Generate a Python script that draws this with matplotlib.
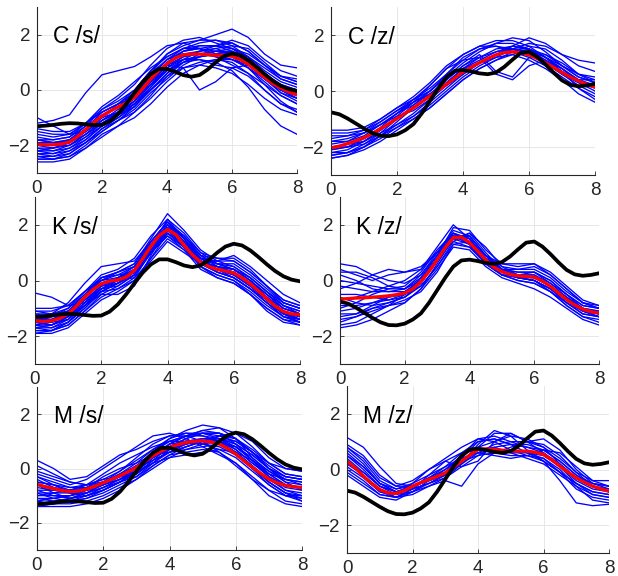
import numpy as np
import matplotlib
matplotlib.use("Agg")
import matplotlib.pyplot as plt

plt.rcParams['font.family'] = ['Liberation Sans', 'DejaVu Sans']

# sample positions (thick curves every 0.25, thin curves every 0.5)
x_fine = np.linspace(0, 8, 33)
x_coarse = np.linspace(0, 8, 17)

# black reference curves
black_s = [-1.31, -1.29, -1.26, -1.22, -1.20, -1.21, -1.24, -1.27, -1.26, -1.12, -0.86, -0.50, -0.10,
           0.28, 0.58, 0.76, 0.76, 0.66, 0.54, 0.48, 0.54, 0.74, 1.00, 1.22, 1.32, 1.26, 1.08, 0.84,
           0.58, 0.34, 0.15, 0.03, -0.03]
black_z = [-0.76, -0.83, -0.98, -1.16, -1.34, -1.50, -1.60, -1.61, -1.55, -1.40, -1.18, -0.80, -0.35,
           0.10, 0.50, 0.72, 0.75, 0.70, 0.63, 0.60, 0.66, 0.86, 1.12, 1.36, 1.40, 1.22, 0.95, 0.65,
           0.38, 0.22, 0.17, 0.20, 0.26]

# red mean curves
red_cs = [-1.96, -1.98, -1.98, -1.95, -1.88, -1.68, -1.43, -1.17, -0.94, -0.76, -0.61, -0.47, -0.27,
          0.05, 0.40, 0.70, 0.95, 1.15, 1.27, 1.30, 1.30, 1.28, 1.26, 1.25, 1.22, 1.10, 0.93, 0.70,
          0.46, 0.24, 0.07, -0.07, -0.17]
red_cz = [-2.03, -1.97, -1.88, -1.78, -1.67, -1.52, -1.35, -1.17, -0.98, -0.79, -0.60, -0.39, -0.18,
          0.03, 0.24, 0.46, 0.68, 0.85, 1.01, 1.16, 1.29, 1.37, 1.40, 1.37, 1.29, 1.16, 1.01, 0.84,
          0.66, 0.50, 0.36, 0.24, 0.14]
red_ks = [-1.45, -1.47, -1.45, -1.36, -1.20, -0.92, -0.60, -0.33, -0.12, -0.02, 0.02, 0.12, 0.36,
          0.78, 1.23, 1.62, 1.83, 1.65, 1.27, 0.92, 0.66, 0.50, 0.40, 0.34, 0.27, 0.10, -0.12, -0.38,
          -0.66, -0.92, -1.11, -1.20, -1.23]
red_kz = [-0.67, -0.65, -0.63, -0.62, -0.60, -0.58, -0.55, -0.51, -0.45, -0.30, -0.04, 0.33, 0.74,
          1.18, 1.54, 1.56, 1.36, 1.06, 0.74, 0.48, 0.32, 0.22, 0.17, 0.15, 0.12, -0.02, -0.21, -0.45,
          -0.69, -0.88, -1.03, -1.12, -1.17]
red_ms = [-0.58, -0.67, -0.74, -0.81, -0.85, -0.83, -0.76, -0.65, -0.52, -0.40, -0.27, -0.12, 0.04,
          0.26, 0.47, 0.64, 0.78, 0.88, 0.96, 1.00, 1.02, 0.98, 0.90, 0.74, 0.53, 0.28, 0.04, -0.18,
          -0.39, -0.53, -0.62, -0.67, -0.70]
red_mz = [0.30, 0.06, -0.24, -0.50, -0.72, -0.84, -0.86, -0.76, -0.60, -0.47, -0.36, -0.25, -0.12,
          0.08, 0.30, 0.52, 0.72, 0.74, 0.72, 0.69, 0.66, 0.66, 0.66, 0.62, 0.54, 0.35, 0.12, -0.10,
          -0.30, -0.46, -0.60, -0.70, -0.78]

# blue single-token curves
blue_cs = [
    [-1.2, -1.1, -0.9, -0.1, 0.55, 0.7, 0.85, 1.2, 1.6, 1.7, 1.5, 1.3, 1.1, 0.8, 0.4, 0.1, 0.0],
    [-1.0, -1.3, -1.6, -1.5, -1.0, -0.5, 0.0, 0.7, 1.2, 1.5, 1.5, 1.4, 1.3, 1.0, 0.5, 0.1, -0.1],
    [-2.6, -2.6, -2.5, -2.1, -1.6, -1.3, -1.0, -0.5, 0.1, 0.6, 0.9, 1.1, 1.0, 0.6, 0.0, -0.5, -0.7],
    [-2.2, -2.2, -2.0, -1.6, -1.1, -0.7, -0.3, 0.3, 0.9, 0.8, 0.0, 0.3, 0.8, 0.9, 0.5, 0.0, -0.3],
    [-2.0, -2.1, -2.0, -1.6, -1.2, -0.9, -0.6, 0.0, 0.6, 1.0, 1.1, 1.0, 0.7, 0.1, -0.7, -1.3, -1.6],
    [-1.8, -1.8, -1.7, -1.2, -0.7, -0.4, 0.0, 0.7, 1.3, 1.6, 1.8, 2.0, 2.2, 1.9, 1.3, 0.9, 0.8],
    [-2.3, -2.3, -2.1, -1.7, -1.2, -0.9, -0.5, 0.1, 0.7, 1.1, 1.2, 1.3, 1.4, 1.2, 0.7, 0.3, 0.1],
    [-1.7, -1.8, -1.7, -1.3, -0.7, -0.3, 0.2, 0.9, 1.5, 1.8, 1.9, 1.7, 1.5, 1.1, 0.6, 0.2, 0.0],
    [-2.1, -2.1, -1.9, -1.4, -0.8, -0.5, -0.3, 0.2, 0.7, 1.0, 1.2, 1.4, 1.5, 1.2, 0.8, 0.4, 0.2],
    [-1.9, -2.0, -2.0, -1.7, -1.3, -1.0, -0.6, 0.0, 0.5, 0.8, 0.9, 0.8, 0.6, 0.2, -0.3, -0.7, -0.9],
    [-2.4, -2.4, -2.2, -1.8, -1.3, -0.8, -0.2, 0.6, 1.1, 1.3, 1.4, 1.5, 1.6, 1.5, 1.0, 0.5, 0.3],
    [-1.5, -1.6, -1.6, -1.2, -0.6, -0.2, 0.3, 0.8, 1.2, 1.5, 1.7, 1.8, 1.6, 1.2, 0.5, -0.1, -0.4],
    [-2.0, -2.0, -1.8, -1.4, -1.0, -0.8, -0.4, 0.3, 1.0, 1.4, 1.5, 1.2, 0.9, 0.6, 0.2, -0.2, -0.5],
    [-2.2, -2.3, -2.2, -1.9, -1.5, -1.1, -0.6, 0.1, 0.8, 1.2, 1.4, 1.5, 1.3, 0.9, 0.4, 0.0, -0.2],
    [-1.8, -1.9, -1.8, -1.3, -0.9, -0.6, -0.2, 0.5, 1.1, 1.5, 1.6, 1.6, 1.5, 1.3, 0.9, 0.5, 0.4],
    [-2.4, -2.5, -2.4, -2.0, -1.5, -1.1, -0.7, -0.1, 0.4, 0.9, 1.2, 1.3, 1.2, 0.8, 0.2, -0.4, -0.8],
    [-2.5, -2.5, -2.3, -1.9, -1.4, -1.0, -0.5, 0.2, 0.9, 1.4, 1.6, 1.6, 1.4, 1.0, 0.4, -0.1, -0.3],
    [-1.9, -1.9, -1.8, -1.5, -1.1, -0.8, -0.3, 0.4, 1.0, 1.3, 1.3, 1.2, 1.1, 0.9, 0.5, 0.2, 0.0],
    [-2.1, -2.2, -2.1, -1.8, -1.3, -0.9, -0.4, 0.3, 0.9, 1.2, 1.3, 1.4, 1.4, 1.1, 0.6, 0.1, -0.2],
    [-1.6, -1.7, -1.6, -1.2, -0.8, -0.5, -0.1, 0.5, 1.1, 1.4, 1.5, 1.6, 1.7, 1.4, 0.9, 0.5, 0.3],
    [-2.3, -2.4, -2.3, -1.9, -1.4, -1.1, -0.8, -0.3, 0.3, 0.8, 1.0, 1.1, 1.1, 0.8, 0.3, -0.2, -0.5],
    [-1.8, -1.9, -1.9, -1.6, -1.2, -0.8, -0.4, 0.2, 0.8, 1.1, 1.1, 0.9, 0.8, 0.5, 0.0, -0.5, -0.8],
    [-2.0, -2.0, -1.9, -1.5, -1.0, -0.6, -0.1, 0.6, 1.3, 1.7, 1.8, 1.8, 1.7, 1.4, 0.9, 0.4, 0.2],
    [-2.2, -2.1, -1.9, -1.5, -1.1, -0.8, -0.5, 0.0, 0.6, 1.1, 1.4, 1.6, 1.8, 1.6, 1.1, 0.7, 0.5],
    [-1.4, -1.5, -1.5, -1.2, -0.8, -0.5, -0.1, 0.4, 0.9, 1.1, 1.2, 1.3, 1.3, 1.0, 0.5, 0.0, -0.2],
    [-2.5, -2.5, -2.4, -2.1, -1.7, -1.3, -0.8, -0.2, 0.5, 1.0, 1.3, 1.4, 1.3, 1.0, 0.5, 0.0, -0.3],
]
blue_cz = [
    [-1.4, -1.4, -1.3, -1.0, -0.6, -0.3, 0.0, 0.6, 1.2, 1.5, 1.6, 1.5, 1.3, 1.0, 0.6, 0.3, 0.2],
    [-2.4, -2.3, -2.1, -1.8, -1.4, -1.0, -0.6, -0.1, 0.4, 0.8, 1.1, 1.4, 1.6, 1.5, 1.1, 0.6, 0.3],
    [-2.2, -2.1, -1.8, -1.4, -1.0, -0.6, -0.2, 0.4, 0.9, 1.3, 0.7, 0.5, 1.2, 1.3, 1.0, 0.6, 0.4],
    [-1.7, -1.6, -1.4, -1.0, -0.6, -0.2, 0.3, 0.9, 1.3, 1.6, 1.8, 1.8, 1.6, 1.2, 0.7, 0.1, -0.3],
    [-2.0, -1.9, -1.8, -1.5, -1.2, -0.9, -0.5, 0.0, 0.5, 0.9, 1.2, 1.5, 1.7, 1.6, 1.3, 1.1, 1.0],
    [-2.3, -2.2, -1.9, -1.5, -1.0, -0.5, 0.0, 0.5, 0.8, 1.0, 1.2, 1.3, 1.1, 0.8, 0.4, -0.1, -0.4],
    [-1.6, -1.6, -1.5, -1.2, -0.8, -0.4, -0.1, 0.2, 0.6, 1.0, 1.3, 1.6, 1.9, 1.7, 1.3, 0.9, 0.7],
    [-2.1, -2.0, -1.8, -1.4, -0.9, -0.4, 0.2, 0.8, 1.1, 1.2, 0.6, 0.4, 0.9, 1.1, 0.8, 0.3, 0.0],
    [-1.9, -1.8, -1.5, -1.1, -0.7, -0.4, 0.0, 0.5, 1.0, 1.4, 1.7, 1.9, 1.8, 1.4, 0.9, 0.5, 0.3],
    [-2.3, -2.2, -2.0, -1.6, -1.2, -0.8, -0.3, 0.2, 0.6, 1.0, 1.3, 1.4, 1.3, 1.0, 0.6, 0.3, 0.1],
    [-1.8, -1.8, -1.6, -1.2, -0.9, -0.7, -0.3, 0.3, 0.8, 1.1, 1.4, 1.6, 1.5, 1.1, 0.6, 0.2, -0.1],
    [-2.1, -2.0, -1.7, -1.3, -0.8, -0.3, 0.1, 0.6, 1.1, 1.5, 1.7, 1.7, 1.5, 1.2, 0.9, 0.6, 0.5],
    [-2.2, -2.2, -2.0, -1.7, -1.3, -0.9, -0.4, 0.1, 0.6, 1.0, 1.3, 1.5, 1.5, 1.2, 0.8, 0.4, 0.2],
    [-1.5, -1.5, -1.4, -1.1, -0.7, -0.3, 0.2, 0.8, 1.3, 1.6, 1.6, 1.4, 1.2, 0.9, 0.5, 0.1, -0.2],
    [-2.0, -2.0, -1.9, -1.6, -1.3, -1.0, -0.6, -0.1, 0.4, 0.8, 1.1, 1.3, 1.5, 1.3, 0.9, 0.5, 0.3],
    [-2.4, -2.3, -2.0, -1.6, -1.1, -0.6, -0.2, 0.3, 0.8, 1.2, 1.5, 1.6, 1.5, 1.2, 0.8, 0.4, 0.2],
    [-1.8, -1.7, -1.5, -1.2, -0.8, -0.5, -0.1, 0.4, 0.9, 1.2, 1.4, 1.5, 1.4, 1.1, 0.7, 0.4, 0.4],
]
blue_ks = [
    [-0.45, -0.6, -0.9, -0.8, -0.4, -0.1, 0.3, 1.2, 2.0, 1.6, 0.9, 0.5, 0.4, 0.1, -0.4, -0.8, -1.0],
    [-1.9, -1.9, -1.7, -1.2, -0.7, -0.4, 0.0, 0.8, 1.5, 1.1, 0.4, 0.1, -0.1, -0.5, -1.0, -1.4, -1.6],
    [-1.3, -1.2, -0.8, -0.1, 0.5, 0.6, 0.7, 1.4, 2.1, 1.6, 1.0, 0.8, 0.7, 0.3, -0.2, -0.7, -0.9],
    [-1.6, -1.7, -1.5, -1.0, -0.4, -0.3, 0.0, 0.8, 1.7, 1.3, 0.6, 0.3, 0.1, -0.3, -0.8, -1.3, -1.5],
    [-1.2, -1.3, -1.1, -0.5, 0.1, 0.3, 0.6, 1.5, 2.4, 1.8, 1.1, 0.7, 0.5, 0.1, -0.4, -0.9, -1.2],
    [-1.7, -1.7, -1.4, -0.9, -0.5, -0.5, -0.2, 0.9, 1.9, 1.2, 0.5, 0.2, 0.0, -0.4, -0.9, -1.3, -1.4],
    [-1.4, -1.4, -1.2, -0.6, 0.0, 0.2, 0.5, 1.3, 1.8, 1.4, 0.9, 0.8, 0.8, 0.4, -0.2, -0.8, -1.0],
    [-1.5, -1.6, -1.3, -0.7, -0.3, -0.2, 0.2, 1.0, 1.6, 1.1, 0.6, 0.5, 0.4, 0.0, -0.5, -1.0, -1.2],
    [-1.1, -1.1, -0.9, -0.4, 0.2, 0.4, 0.8, 1.6, 2.2, 1.5, 0.8, 0.4, 0.2, -0.2, -0.7, -1.1, -1.3],
    [-1.8, -1.8, -1.6, -1.1, -0.5, -0.2, 0.2, 1.1, 1.9, 1.3, 0.5, 0.2, 0.0, -0.5, -1.1, -1.5, -1.6],
    [-1.3, -1.3, -1.0, -0.4, 0.0, 0.1, 0.4, 1.3, 2.0, 1.4, 0.8, 0.6, 0.6, 0.2, -0.3, -0.8, -1.0],
    [-1.6, -1.6, -1.3, -0.7, -0.2, -0.1, 0.3, 1.1, 1.7, 1.2, 0.7, 0.5, 0.3, -0.1, -0.6, -1.1, -1.4],
    [-1.4, -1.5, -1.4, -0.8, -0.2, 0.1, 0.5, 1.4, 2.1, 1.5, 0.7, 0.3, 0.1, -0.3, -0.8, -1.2, -1.3],
    [-1.5, -1.4, -1.1, -0.6, -0.1, 0.0, 0.1, 0.7, 1.4, 1.0, 0.6, 0.7, 0.9, 0.5, 0.0, -0.5, -0.8],
    [-1.0, -1.0, -0.9, -0.4, 0.1, 0.2, 0.3, 1.0, 1.8, 1.4, 0.8, 0.4, 0.1, -0.3, -0.7, -1.2, -1.4],
    [-1.7, -1.6, -1.3, -0.8, -0.3, 0.0, 0.4, 1.2, 2.0, 1.5, 0.9, 0.6, 0.4, 0.0, -0.6, -1.1, -1.3],
    [-1.3, -1.4, -1.3, -0.9, -0.4, -0.1, 0.3, 1.1, 1.9, 1.4, 0.7, 0.4, 0.2, -0.2, -0.7, -1.2, -1.4],
    [-1.6, -1.5, -1.2, -0.6, 0.1, 0.3, 0.5, 1.2, 1.8, 1.3, 0.7, 0.5, 0.4, 0.0, -0.5, -1.0, -1.2],
    [-1.2, -1.2, -1.1, -0.7, -0.2, 0.0, 0.3, 1.2, 2.2, 1.7, 1.0, 0.6, 0.4, 0.0, -0.5, -0.9, -1.1],
    [-1.8, -1.8, -1.5, -1.0, -0.4, -0.1, 0.2, 1.0, 1.7, 1.2, 0.6, 0.4, 0.3, -0.1, -0.6, -1.2, -1.5],
    [-1.5, -1.5, -1.2, -0.6, -0.1, 0.1, 0.4, 1.3, 2.0, 1.4, 0.7, 0.4, 0.2, -0.2, -0.7, -1.2, -1.4],
    [-1.4, -1.3, -1.1, -0.6, -0.1, 0.1, 0.3, 1.0, 1.6, 1.2, 0.8, 0.7, 0.7, 0.3, -0.2, -0.7, -0.9],
    [-1.7, -1.8, -1.6, -1.1, -0.6, -0.3, 0.1, 1.0, 1.8, 1.3, 0.6, 0.3, 0.1, -0.3, -0.8, -1.3, -1.5],
    [-1.1, -1.2, -1.0, -0.5, 0.0, 0.3, 0.6, 1.4, 2.1, 1.6, 0.9, 0.5, 0.3, -0.1, -0.6, -1.0, -1.2],
    [-1.9, -1.8, -1.5, -0.9, -0.3, -0.1, 0.2, 1.0, 1.8, 1.3, 0.5, 0.1, -0.1, -0.5, -1.0, -1.4, -1.5],
    [-1.5, -1.6, -1.4, -0.9, -0.3, 0.0, 0.3, 1.2, 1.9, 1.4, 0.8, 0.6, 0.5, 0.1, -0.4, -0.9, -1.1],
]
blue_kz = [
    [0.6, 0.5, 0.2, 0.0, -0.1, 0.2, 0.9, 1.6, 1.4, 0.8, 0.4, 0.3, 0.3, 0.0, -0.5, -0.9, -1.0],
    [-1.7, -1.6, -1.4, -1.1, -0.8, -0.3, 0.4, 1.2, 1.1, 0.5, 0.1, -0.1, -0.3, -0.6, -1.0, -1.4, -1.6],
    [-0.3, -0.1, 0.2, 0.4, 0.3, 0.4, 1.0, 1.8, 1.6, 0.9, 0.5, 0.4, 0.4, 0.1, -0.4, -0.8, -0.9],
    [-1.2, -1.2, -1.0, -0.8, -0.6, -0.1, 0.8, 1.7, 1.5, 0.8, 0.3, 0.2, 0.2, -0.2, -0.7, -1.1, -1.3],
    [0.2, 0.0, -0.3, -0.4, -0.4, 0.0, 0.7, 1.5, 1.3, 0.7, 0.4, 0.4, 0.5, 0.2, -0.3, -0.8, -1.0],
    [-0.9, -0.9, -0.8, -0.7, -0.6, -0.2, 0.5, 1.4, 1.7, 1.0, 0.4, 0.1, 0.0, -0.3, -0.8, -1.2, -1.3],
    [-0.5, -0.5, -0.6, -0.7, -0.5, 0.1, 0.9, 1.9, 1.8, 1.1, 0.6, 0.5, 0.6, 0.3, -0.2, -0.7, -0.9],
    [-1.4, -1.3, -1.1, -0.9, -0.7, -0.4, 0.3, 1.3, 1.2, 0.6, 0.2, 0.0, -0.1, -0.4, -0.9, -1.3, -1.4],
    [0.0, -0.1, -0.2, -0.3, -0.2, 0.3, 1.1, 1.7, 1.3, 0.6, 0.2, 0.1, 0.0, -0.3, -0.8, -1.1, -1.2],
    [-1.0, -0.8, -0.5, -0.3, -0.3, 0.0, 0.7, 1.6, 1.6, 0.9, 0.3, 0.1, 0.1, -0.2, -0.6, -1.0, -1.1],
    [-0.7, -0.6, -0.4, -0.2, 0.0, 0.4, 1.2, 2.0, 1.5, 0.7, 0.2, 0.0, -0.1, -0.4, -0.8, -1.2, -1.3],
    [-1.3, -1.2, -0.9, -0.6, -0.5, -0.2, 0.5, 1.3, 1.4, 0.9, 0.6, 0.6, 0.6, 0.2, -0.3, -0.8, -1.0],
    [0.3, 0.3, 0.1, -0.2, -0.3, 0.1, 0.8, 1.4, 1.2, 0.7, 0.3, 0.1, 0.0, -0.3, -0.7, -1.1, -1.2],
    [-1.5, -1.3, -1.0, -0.9, -0.8, -0.3, 0.6, 1.5, 1.7, 1.2, 0.5, 0.2, 0.3, 0.0, -0.5, -1.0, -1.2],
    [-0.2, -0.3, -0.4, -0.4, -0.3, 0.2, 1.0, 1.7, 1.4, 0.7, 0.3, 0.2, 0.1, -0.2, -0.6, -1.0, -1.1],
    [-1.1, -1.0, -0.8, -0.6, -0.4, 0.0, 0.8, 1.6, 1.5, 0.8, 0.4, 0.3, 0.3, -0.1, -0.6, -1.0, -1.2],
    [-0.6, -0.8, -0.9, -0.8, -0.6, -0.1, 0.7, 1.5, 1.6, 0.9, 0.4, 0.2, 0.1, -0.2, -0.7, -1.1, -1.3],
    [-1.6, -1.5, -1.2, -0.9, -0.5, 0.0, 0.8, 1.7, 1.5, 0.8, 0.3, 0.1, 0.0, -0.4, -0.9, -1.3, -1.5],
    [0.4, 0.2, 0.0, 0.2, 0.3, 0.5, 1.0, 1.6, 1.3, 0.6, 0.2, 0.2, 0.2, -0.1, -0.5, -0.9, -1.0],
]
blue_ms = [
    [0.3, 0.0, -0.4, -0.3, 0.1, 0.5, 0.7, 1.0, 1.2, 1.2, 1.0, 0.6, 0.1, -0.4, -0.8, -1.0, -1.0],
    [-1.4, -1.4, -1.4, -1.3, -1.1, -0.8, -0.4, 0.1, 0.5, 0.8, 1.0, 1.0, 0.7, 0.2, -0.3, -0.6, -0.7],
    [-0.8, -1.0, -1.1, -1.0, -0.7, -0.4, -0.1, 0.4, 0.8, 1.1, 1.3, 1.3, 1.1, 0.6, 0.1, -0.3, -0.4],
    [-0.2, -0.4, -0.6, -0.4, 0.0, 0.4, 0.8, 1.2, 1.3, 1.1, 0.8, 0.5, 0.2, -0.3, -0.8, -1.2, -1.3],
    [-1.1, -1.2, -1.2, -1.0, -0.8, -0.5, -0.2, 0.3, 0.6, 0.8, 1.0, 1.2, 1.3, 1.0, 0.4, 0.0, -0.1],
    [-0.5, -0.6, -0.8, -0.8, -0.6, -0.3, 0.1, 0.5, 0.9, 1.2, 1.4, 1.3, 0.9, 0.3, -0.3, -0.7, -0.8],
    [-1.0, -1.0, -1.0, -0.9, -0.7, -0.5, -0.3, 0.1, 0.5, 0.6, 0.7, 0.6, 0.2, -0.4, -1.0, -1.3, -1.4],
    [-0.3, -0.5, -0.7, -0.6, -0.4, -0.1, 0.3, 0.7, 1.0, 1.2, 1.3, 1.1, 0.7, 0.2, -0.2, -0.4, -0.5],
    [-1.3, -1.3, -1.2, -1.1, -0.9, -0.6, -0.3, 0.2, 0.7, 1.0, 1.1, 1.0, 0.6, 0.1, -0.5, -0.9, -1.0],
    [-0.7, -0.8, -0.9, -0.7, -0.3, 0.0, 0.2, 0.5, 0.6, 0.7, 0.8, 0.9, 0.8, 0.4, -0.1, -0.4, -0.5],
    [-0.4, -0.7, -0.9, -0.9, -0.7, -0.4, 0.0, 0.6, 1.1, 1.4, 1.6, 1.5, 1.1, 0.4, -0.2, -0.6, -0.7],
    [-1.2, -1.1, -1.0, -0.8, -0.5, -0.3, -0.1, 0.2, 0.4, 0.5, 0.6, 0.7, 0.6, 0.3, -0.1, -0.5, -0.6],
    [-0.9, -1.1, -1.2, -1.1, -0.8, -0.5, -0.1, 0.5, 0.9, 1.0, 0.9, 0.8, 0.5, 0.0, -0.5, -0.9, -1.1],
    [-0.1, -0.3, -0.5, -0.6, -0.5, -0.2, 0.2, 0.7, 1.1, 1.3, 1.3, 1.2, 1.0, 0.6, 0.2, 0.0, -0.1],
    [-0.6, -0.9, -1.1, -0.9, -0.5, -0.1, 0.4, 0.9, 1.2, 1.3, 1.2, 1.0, 0.6, 0.1, -0.5, -0.9, -1.2],
    [-1.0, -0.9, -0.8, -0.6, -0.4, -0.3, -0.2, 0.2, 0.6, 0.9, 1.1, 1.1, 0.9, 0.5, 0.0, -0.3, -0.4],
    [-1.2, -1.3, -1.3, -1.2, -1.0, -0.7, -0.4, 0.0, 0.4, 0.7, 0.9, 1.0, 0.8, 0.3, -0.3, -0.8, -1.0],
    [-0.6, -0.7, -0.8, -0.7, -0.5, -0.2, 0.1, 0.5, 0.8, 1.0, 1.1, 1.1, 0.9, 0.5, 0.0, -0.3, -0.4],
    [-0.9, -0.9, -0.9, -0.8, -0.6, -0.4, -0.1, 0.4, 0.9, 1.2, 1.4, 1.5, 1.3, 0.8, 0.2, -0.2, -0.3],
    [-0.3, -0.6, -0.9, -1.0, -0.8, -0.5, -0.1, 0.4, 0.8, 1.0, 1.0, 0.9, 0.6, 0.1, -0.4, -0.8, -0.9],
    [-1.4, -1.3, -1.1, -0.9, -0.6, -0.3, 0.1, 0.6, 1.0, 1.2, 1.2, 1.1, 0.8, 0.3, -0.2, -0.6, -0.7],
    [-0.8, -0.8, -0.8, -0.6, -0.2, 0.2, 0.5, 0.8, 1.0, 1.0, 0.9, 0.7, 0.4, -0.1, -0.6, -1.0, -1.1],
    [0.1, -0.2, -0.5, -0.6, -0.5, -0.3, 0.0, 0.4, 0.7, 0.9, 1.0, 1.1, 1.0, 0.6, 0.0, -0.4, -0.6],
    [-1.1, -1.1, -1.0, -0.8, -0.6, -0.4, -0.2, 0.3, 0.8, 1.1, 1.3, 1.3, 1.1, 0.6, 0.0, -0.5, -0.8],
    [-0.5, -0.6, -0.7, -0.7, -0.5, -0.3, 0.0, 0.3, 0.6, 0.8, 1.0, 1.2, 1.1, 0.7, 0.2, -0.2, -0.3],
    [-1.3, -1.2, -1.1, -1.0, -0.8, -0.5, -0.1, 0.4, 0.7, 0.9, 1.0, 0.9, 0.6, 0.0, -0.6, -1.0, -1.2],
]
blue_mz = [
    [1.15, 0.8, 0.1, -0.5, -0.6, -0.4, -0.2, 0.4, 1.0, 1.1, 0.9, 0.6, 0.3, -0.1, -0.5, -0.8, -0.9],
    [-0.2, -0.6, -1.0, -1.1, -0.8, -0.4, 0.0, 0.5, 0.8, 1.0, 1.2, 1.1, 0.8, 0.2, -0.3, -0.5, -0.6],
    [0.8, 0.4, -0.3, -0.6, -0.4, 0.0, 0.3, 0.1, 0.3, 1.0, 1.3, 1.0, 0.6, 0.1, -0.4, -0.7, -0.8],
    [0.5, 0.0, -0.6, -0.9, -0.8, -0.6, -0.4, -0.6, 0.2, 0.6, 0.7, 0.6, 0.4, -0.1, -0.7, -1.0, -1.1],
    [0.1, -0.3, -0.8, -0.9, -0.5, 0.0, 0.4, 0.8, 1.1, 1.0, 0.7, 0.5, 0.3, -0.4, -1.2, -1.3, -1.25],
    [0.7, 0.2, -0.5, -0.8, -0.7, -0.5, -0.2, 0.3, 0.8, 1.3, 1.3, 1.0, 0.8, 0.4, -0.1, -0.4, -0.4],
    [0.0, -0.4, -0.9, -1.0, -0.7, -0.3, 0.1, 0.4, 0.6, 0.5, 0.4, 0.5, 0.7, 0.6, 0.1, -0.4, -0.6],
    [0.4, -0.1, -0.6, -0.8, -0.6, -0.4, -0.2, 0.2, 0.7, 0.8, 0.6, 0.4, 0.2, -0.2, -0.6, -0.9, -1.0],
    [0.8, 0.3, -0.4, -0.7, -0.5, -0.2, 0.1, 0.6, 1.0, 1.1, 0.9, 0.8, 0.7, 0.3, -0.2, -0.5, -0.7],
    [0.2, -0.2, -0.7, -1.0, -0.9, -0.6, -0.3, 0.2, 0.9, 1.4, 1.2, 0.7, 0.3, -0.1, -0.5, -0.8, -0.9],
    [0.6, 0.1, -0.5, -0.7, -0.6, -0.3, -0.1, 0.3, 0.5, 0.6, 0.8, 1.0, 1.1, 0.7, 0.0, -0.5, -0.6],
    [0.3, -0.2, -0.8, -1.0, -0.7, -0.2, 0.3, 0.6, 0.7, 0.6, 0.5, 0.5, 0.4, 0.0, -0.6, -1.1, -1.2],
    [0.5, 0.1, -0.5, -0.8, -0.7, -0.5, -0.3, 0.1, 0.5, 0.8, 0.9, 0.9, 0.7, 0.3, -0.2, -0.6, -0.8],
    [-0.1, -0.5, -0.9, -1.0, -0.8, -0.5, -0.2, 0.2, 0.6, 0.9, 1.0, 1.0, 0.9, 0.5, -0.1, -0.6, -0.8],
    [0.9, 0.5, -0.2, -0.6, -0.6, -0.4, -0.1, 0.5, 1.1, 1.2, 1.0, 0.8, 0.6, 0.2, -0.3, -0.6, -0.7],
    [0.2, -0.1, -0.6, -0.8, -0.6, -0.3, 0.0, 0.4, 0.6, 0.7, 0.6, 0.6, 0.5, 0.1, -0.5, -0.9, -1.0],
]

titles = ['C /s/', 'C /z/', 'K /s/', 'K /z/', 'M /s/', 'M /z/']
blues = [blue_cs, blue_cz, blue_ks, blue_kz, blue_ms, blue_mz]
reds = [red_cs, red_cz, red_ks, red_kz, red_ms, red_mz]
blacks = [black_s, black_z, black_s, black_z, black_s, black_z]

# axes boxes in pixels: left, right, top, bottom
W, H = 618, 576
boxes = [(37, 297, 7, 173), (331, 595, 7, 175),
         (35, 300, 197, 364), (340, 599, 197, 364),
         (37, 302, 387, 550), (347, 609, 386, 553)]

fig = plt.figure(figsize=(W / 100, H / 100), dpi=100)
fig.patch.set_facecolor('white')

for i in range(6):
    l, r, t, b = boxes[i]
    ax = fig.add_axes([l / W, 1 - b / H, (r - l) / W, (b - t) / H])
    for curve in blues[i]:
        ax.plot(x_coarse, curve, color='#0000ff', lw=0.95, solid_joinstyle='round')
    ax.plot(x_fine, reds[i], color='#ff0000', lw=2.4, solid_joinstyle='round', solid_capstyle='round')
    ax.plot(x_fine, blacks[i], color='black', lw=2.7, solid_joinstyle='round', solid_capstyle='round')
    ax.text(0.5, 1.92, titles[i], fontsize=16.5, ha='left', va='center', color='black')
    ax.set_xlim(0, 8)
    ax.set_ylim(-3, 3)
    ax.set_xticks([0, 2, 4, 6, 8])
    ax.set_yticks([-2, 0, 2])
    ax.grid(True, color='#e3e3e3', lw=0.6)
    ax.set_axisbelow(True)
    for s in ['top', 'right']:
        ax.spines[s].set_visible(False)
    for s in ['left', 'bottom']:
        ax.spines[s].set_color('#262626')
        ax.spines[s].set_linewidth(0.8)
    ax.tick_params(direction='in', length=3, width=0.6, colors='#262626',
                   labelsize=13.5, pad=5)

fig.savefig('out.png', dpi=100)
